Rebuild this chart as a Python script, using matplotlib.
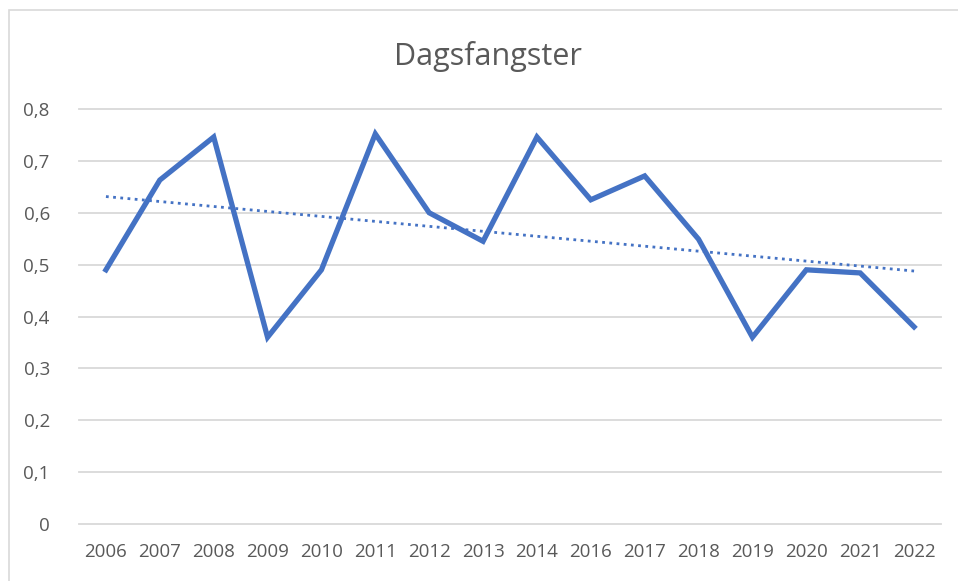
import numpy as np
import matplotlib.pyplot as plt
from matplotlib.patches import Rectangle

years = ["2006", "2007", "2008", "2009", "2010", "2011", "2012", "2013",
         "2014", "2016", "2017", "2018", "2019", "2020", "2021", "2022"]
catch = [0.49, 0.663, 0.746, 0.36, 0.49, 0.752, 0.60, 0.545,
         0.746, 0.625, 0.671, 0.549, 0.36, 0.49, 0.484, 0.38]
yticks = [0, 0.1, 0.2, 0.3, 0.4, 0.5, 0.6, 0.7, 0.8]
ytick_labels = ["0", "0,1", "0,2", "0,3", "0,4", "0,5", "0,6", "0,7", "0,8"]

blue = "#4472C4"
grey_txt = "#595959"

plt.rcParams['font.family'] = ['Open Sans', 'DejaVu Sans']

fig = plt.figure(figsize=(9.58, 5.81), dpi=100)
# outer chart frame
fig.patches.append(Rectangle((9 / 958, -0.01), 1.0, 1 - 10 / 581 + 0.01,
                             transform=fig.transFigure, fill=False,
                             edgecolor="#D9D9D9", linewidth=1.2))

ax = fig.add_axes([79 / 958, 1 - 524 / 581, (941 - 79) / 958, (524 - 109) / 581])
x = np.arange(len(years))
ax.plot(x, catch, color=blue, linewidth=3.8, solid_joinstyle="miter", zorder=3)

# linear trend line
k, m = np.polyfit(x, catch, 1)
ax.plot(x, k * x + m, color=blue, linewidth=2.0, linestyle=(0, (1, 1.6)), zorder=2)

ax.set_xlim(-0.5, len(years) - 0.5)
ax.set_ylim(0, 0.8)
ax.set_xticks(x)
ax.set_xticklabels(years)
ax.set_yticks(yticks)
ax.set_yticklabels(ytick_labels)
ax.tick_params(length=0, labelsize=13.5, labelcolor=grey_txt)
ax.tick_params(axis="x", pad=14)
ax.tick_params(axis="y", pad=21)
for s in ax.spines.values():
    s.set_visible(False)
ax.grid(axis="y", color="#D9D9D9", linewidth=1.3)
ax.set_axisbelow(True)
for gl in ax.get_ygridlines():
    gl.set_clip_on(False)

fig.text(488 / 958, 1 - 56 / 581, "Dagsfangster", ha="center", va="center",
         fontsize=22, color=grey_txt)

fig.savefig("out.png", dpi=100)
